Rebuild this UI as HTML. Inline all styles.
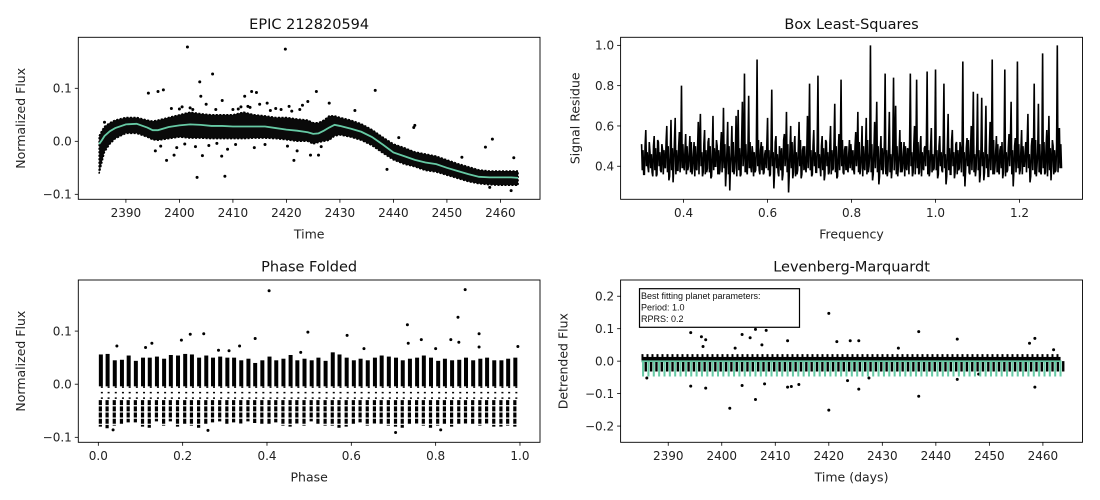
<!DOCTYPE html>
<html><head><meta charset="utf-8"><style>
html,body{margin:0;padding:0;background:#fff}
svg{display:block;font-family:"DejaVu Sans","Liberation Sans",sans-serif}
</style></head><body>
<svg id="fig" width="1100" height="500" viewBox="0 0 1100 500" xmlns="http://www.w3.org/2000/svg"></svg>
<script>
// ---------- Panel 1: light curve ----------
const lcTimes=[2385,2385.5,2386,2387,2388,2390,2392,2394,2395,2396,2398,2400,2402,2404,2406,2408,2410,2412,2414,2416,2418,2420,2422,2424,2425,2426,2427,2428,2429,2430,2432,2434,2436,2438,2440,2442,2444,2446,2448,2450,2452,2454,2456,2458,2460,2462,2463.3];
const lcTrend=[-0.005,0.002,0.010,0.019,0.025,0.032,0.033,0.026,0.021,0.021,0.027,0.030,0.032,0.031,0.029,0.029,0.028,0.028,0.028,0.028,0.025,0.022,0.020,0.017,0.014,0.015,0.020,0.026,0.031,0.029,0.024,0.018,0.008,-0.006,-0.021,-0.028,-0.035,-0.040,-0.043,-0.050,-0.056,-0.062,-0.067,-0.068,-0.068,-0.068,-0.069];
const lcUpper=[0.01,0.02,0.028,0.035,0.04,0.045,0.045,0.04,0.038,0.04,0.045,0.05,0.055,0.052,0.05,0.05,0.05,0.055,0.05,0.048,0.045,0.045,0.042,0.04,0.035,0.035,0.04,0.048,0.048,0.045,0.04,0.033,0.022,0.008,-0.005,-0.012,-0.02,-0.024,-0.028,-0.035,-0.042,-0.048,-0.054,-0.056,-0.056,-0.056,-0.056];
const lcLower=[-0.06,-0.04,-0.02,-0.005,0.005,0.015,0.015,0.008,0.003,0.002,0.005,0.008,0.006,0.006,0.005,0.005,0.005,0.005,0.006,0.006,0.005,0.003,0.0,0.0,-0.005,-0.002,0.0,0.002,0.01,0.012,0.008,0.002,-0.008,-0.022,-0.035,-0.043,-0.048,-0.055,-0.058,-0.064,-0.07,-0.076,-0.08,-0.082,-0.083,-0.083,-0.083];
const lcOutT=[2401.5,2419.8,2406.2,2403.8,2404,2394.2,2396,2397,2413.5,2414.4,2425.6,2436.6,2403.3,2408.5,2397.6,2407.9,2421.4,2444,2443.8,2458.5,2457.2,2462.5,2452.8,2438.8,2441,2386,2432.8,2428,2416.4,2408,2412.2,2424,2395.5,2399,2404.3,2424.5,2426,2462,2458,2400.5,2402.5,2405,2410,2411.5,2415,2418,2420.5,2422.5,2423,2399.5,2409,2401,2403,2405.5,2407,2412.8,2417,2419,2421,2398.5,2410.5,2414,2416,2426.5,2400,2402,2406.8,2411,2413.2,2420.2,2422,2396.5];
const lcOutF=[0.178,0.174,0.127,0.112,0.085,0.091,0.094,0.097,0.094,0.092,0.094,0.096,-0.068,-0.066,-0.036,-0.028,-0.036,0.03,0.026,0.004,-0.011,-0.031,-0.03,-0.053,0.007,0.036,0.058,0.072,0.072,0.077,0.085,0.075,-0.018,-0.026,-0.027,-0.026,-0.026,-0.093,-0.087,0.065,0.06,0.07,0.06,0.065,0.07,0.062,0.066,0.06,0.068,-0.012,-0.015,-0.005,-0.01,-0.008,-0.004,0.066,0.058,0.06,0.057,0.062,-0.006,-0.012,-0.006,-0.01,0.061,0.063,0.06,0.061,0.064,-0.009,-0.018,-0.009];
const lcXTicks=[2390,2400,2410,2420,2430,2440,2450,2460];
const lcYTicks=[-0.1,0.0,0.1];

// ---------- Panel 2: BLS ----------
const blsFreqStart=0.3, blsFreqStep=0.005;
const blsValues=[0.51,0.36,0.58,0.40,0.47,0.37,0.55,0.35,0.52,0.38,
0.48,0.40,0.60,0.33,0.63,0.32,0.64,0.38,0.57,0.80,
0.40,0.56,0.38,0.55,0.36,0.52,0.39,0.62,0.66,0.35,
0.58,0.37,0.54,0.34,0.65,0.40,0.50,0.36,0.57,0.69,
0.30,0.62,0.28,0.60,0.36,0.65,0.68,0.35,0.72,0.86,
0.38,0.75,0.40,0.46,0.37,0.93,0.38,0.52,0.36,0.48,
0.64,0.35,0.78,0.29,0.55,0.37,0.45,0.33,0.56,0.67,
0.27,0.60,0.34,0.55,0.36,0.62,0.34,0.50,0.40,0.65,
0.81,0.35,0.58,0.37,0.85,0.40,0.55,0.33,0.52,0.36,
0.60,0.38,0.71,0.34,0.56,0.83,0.37,0.50,0.39,0.53,
0.45,0.38,0.57,0.67,0.36,0.60,0.40,0.64,0.37,1.00,
0.33,0.62,0.72,0.31,0.55,0.36,0.86,0.35,0.67,0.34,
0.84,0.70,0.35,0.58,0.37,0.52,0.40,0.48,0.86,0.35,
0.60,0.83,0.36,0.55,0.40,0.50,0.87,0.35,0.59,0.38,
0.88,0.34,0.55,0.38,0.81,0.31,0.66,0.36,0.58,0.34,
0.52,0.38,0.48,0.92,0.30,0.54,0.37,0.60,0.77,0.35,
0.76,0.32,0.74,0.33,0.70,0.35,0.62,0.93,0.36,0.55,
0.38,0.50,0.34,0.88,0.37,0.56,0.72,0.30,0.54,0.92,
0.36,0.58,0.40,0.52,0.66,0.32,0.54,0.81,0.35,0.71,
0.37,0.96,0.36,0.58,0.65,0.33,0.50,0.37,1.00,0.59,0.39];
const blsBaseHigh=[0.48,0.50,0.47,0.52,0.46,0.50,0.49,0.53,0.47,0.51,0.48,0.52,0.50,0.47,0.49,0.53,0.48,0.50,0.46,0.51];
const blsBaseLow=[0.38,0.36,0.40,0.37,0.39,0.35,0.38,0.36,0.40,0.37,0.36,0.39,0.37,0.35,0.38,0.40,0.36,0.38,0.37,0.39];
const blsXTicks=[0.4,0.6,0.8,1.0,1.2];
const blsYTicks=[0.4,0.6,0.8,1.0];

// ---------- Panel 3: phase folded ----------
const phCols=[0.006,0.022,0.039,0.056,0.072,0.089,0.106,0.122,0.139,0.156,0.172,0.189,0.206,0.222,0.239,0.256,0.272,0.289,0.306,0.322,0.339,0.356,0.372,0.389,0.406,0.422,0.439,0.456,0.472,0.489,0.506,0.522,0.539,0.556,0.572,0.589,0.606,0.622,0.639,0.656,0.672,0.689,0.706,0.722,0.739,0.756,0.772,0.789,0.806,0.822,0.839,0.856,0.872,0.889,0.906,0.922,0.939,0.956,0.972,0.989];
const phTop=[0.056,0.057,0.045,0.046,0.054,0.044,0.05,0.05,0.052,0.048,0.055,0.054,0.057,0.056,0.05,0.054,0.05,0.052,0.05,0.05,0.045,0.048,0.04,0.045,0.052,0.045,0.048,0.055,0.045,0.048,0.045,0.05,0.044,0.06,0.056,0.05,0.045,0.048,0.045,0.05,0.054,0.052,0.05,0.045,0.048,0.05,0.054,0.05,0.044,0.048,0.045,0.046,0.05,0.045,0.048,0.05,0.045,0.045,0.048,0.05];
const phBottom=[-0.08,-0.083,-0.078,-0.075,-0.072,-0.072,-0.08,-0.082,-0.07,-0.078,-0.07,-0.08,-0.076,-0.078,-0.082,-0.075,-0.072,-0.07,-0.076,-0.072,-0.074,-0.07,-0.073,-0.075,-0.076,-0.072,-0.078,-0.08,-0.074,-0.078,-0.07,-0.075,-0.078,-0.078,-0.082,-0.08,-0.076,-0.072,-0.078,-0.074,-0.076,-0.078,-0.08,-0.082,-0.076,-0.074,-0.078,-0.082,-0.078,-0.076,-0.08,-0.075,-0.074,-0.075,-0.078,-0.074,-0.08,-0.08,-0.078,-0.08];
const phOutP=[0.405,0.87,0.853,0.733,0.497,0.903,0.25,0.218,0.197,0.59,0.372,0.766,0.836,0.127,0.735,0.855,0.903,0.995,0.705,0.26,0.035,0.812,0.044,0.112,0.285,0.31,0.335,0.48,0.63,0.8];
const phOutF=[0.176,0.178,0.126,0.112,0.098,0.095,0.095,0.094,0.083,0.092,0.086,0.084,0.084,0.077,0.077,0.079,0.07,0.071,-0.091,-0.087,-0.086,-0.086,0.072,0.069,0.064,0.063,0.072,0.06,0.067,0.067];
const phXTicks=[0.0,0.2,0.4,0.6,0.8,1.0];
const phYTicks=[-0.1,0.0,0.1];

// ---------- Panel 4: LM fit ----------
const lmPeriod=1.0, lmT0=2385.3, lmDepth=-0.045, lmTStart=2385, lmTEnd=2463.3;
const lmBandTop=0.013, lmBandBottom=-0.003;
const lmOutT=[2401.5,2420,2394.2,2396.2,2397,2403.8,2406.3,2408.3,2405.3,2412.3,2424,2425.6,2436.8,2444,2458.5,2457.5,2421.5,2401.5,2406.3,2420,2436.8,2394.2,2397,2403.8,2412.3,2414.4,2425.6,2458.5,2444,2386,2408,2423.5,2413,2396.5,2402.5,2407.5,2433,2462,2427.5,2448];
const lmOutF=[0.131,0.147,0.088,0.075,0.066,0.082,0.098,0.095,0.072,0.063,0.063,0.063,0.091,0.068,0.07,0.055,0.06,-0.145,-0.118,-0.151,-0.108,-0.077,-0.083,-0.075,-0.08,-0.072,-0.086,-0.08,-0.056,-0.052,-0.07,-0.06,-0.078,0.045,0.04,0.05,0.04,0.035,-0.052,-0.04];
const lmXTicks=[2390,2400,2410,2420,2430,2440,2450,2460];
const lmYTicks=[-0.2,-0.1,0.0,0.1,0.2];

const NS="http://www.w3.org/2000/svg";
const svg=document.getElementById('fig');
const GREEN="#66c9a4";
function mk(tag,attrs,parent){const e=document.createElementNS(NS,tag);for(const k in attrs)e.setAttribute(k,attrs[k]);(parent||svg).appendChild(e);return e;}
function fmt(v,d){let s=v.toFixed(d);if(v<0)s="\u2212"+(-v).toFixed(d);if(Math.abs(v)<1e-9)s=(0).toFixed(d);return s;}
function scale(d0,d1,p0,p1){return v=>p0+(v-d0)/(d1-d0)*(p1-p0);}

function axes(name,box,xlim,ylim,xticks,yticks,xd,yd,title,xlabel,ylabel,ylabX){
  const g=mk('g',{});
  
  
  const sx=scale(xlim[0],xlim[1],box.l,box.r), sy=scale(ylim[0],ylim[1],box.b,box.t);
  const plot=mk('g',{},g);
  
  
  const cid='clip-'+name;
  const cp=mk('clipPath',{id:cid},g);mk('rect',{x:box.l,y:box.t,width:box.r-box.l,height:box.b-box.t},cp);
  plot.setAttribute('clip-path','url(#'+cid+')');
  const frame=mk('rect',{x:box.l,y:box.t,width:box.r-box.l,height:box.b-box.t,fill:'none',stroke:'#000','stroke-width':0.9},g);
  
  
  xticks.forEach(v=>{const x=sx(v);
    mk('line',{x1:x,x2:x,y1:box.b,y2:box.b+3.5,stroke:'#000','stroke-width':0.8},g);
    const t=mk('text',{x:x,y:box.b+17.5,'text-anchor':'middle','font-size':12,fill:'#222'},g);t.textContent=fmt(v,xd);
    
    });
  yticks.forEach(v=>{const y=sy(v);
    mk('line',{x1:box.l-3.5,x2:box.l,y1:y,y2:y,stroke:'#000','stroke-width':0.8},g);
    const t=mk('text',{x:box.l-6.5,y:y+4.3,'text-anchor':'end','font-size':12,fill:'#222'},g);t.textContent=fmt(v,yd);
    
    });
  const cx=(box.l+box.r)/2;
  const tt=mk('text',{x:cx,y:box.t-8.5,'text-anchor':'middle','font-size':14.5,fill:'#111'},g);tt.textContent=title;
  
  
  const xl=mk('text',{x:cx,y:box.b+39,'text-anchor':'middle','font-size':12.5,fill:'#222'},g);xl.textContent=xlabel;
  
  
  const cy=(box.t+box.b)/2;
  const yl=mk('text',{x:ylabX,y:cy,'text-anchor':'middle','font-size':12.5,fill:'#222',transform:`rotate(-90 ${ylabX} ${cy})`,dy:'4.5'},g);yl.textContent=ylabel;
  
  
  g.appendChild(frame);
  return {sx,sy,plot,g};
}
function dot(parent,x,y,r){const c=mk('circle',{cx:x,cy:y,r:r||1.5,fill:'#000'},parent);
  
  return c;}

// Panel 1
(function(){
  const A=axes('light-curve-panel',{l:78.3,r:540,t:37.3,b:199.3},[2381.1,2467.4],[-0.1094,0.1962],lcXTicks,lcYTicks,0,1,'EPIC 212820594','Time','Normalized Flux',20.5);
  let pts=lcTimes.map((t,i)=>A.sx(t)+','+A.sy(lcUpper[i]));
  for(let i=lcTimes.length-1;i>=0;i--)pts.push(A.sx(lcTimes[i])+','+A.sy(lcLower[i]));
  const band=mk('polygon',{points:pts.join(' '),fill:'#0a0a0a',stroke:'#000','stroke-width':1.5,'stroke-linejoin':'round','stroke-dasharray':'2 1.5'},A.plot);
  
  
  lcOutT.forEach((t,i)=>dot(A.plot,A.sx(t),A.sy(lcOutF[i])));
  const tr=mk('polyline',{points:lcTimes.map((t,i)=>A.sx(t)+','+A.sy(lcTrend[i])).join(' '),fill:'none',stroke:GREEN,'stroke-width':1.8},A.plot);
  
  
})();

// Panel 2
(function(){
  const A=axes('bls-panel',{l:620.6,r:1082.5,t:37.3,b:199.3},[0.25,1.35],[0.236,1.04],blsXTicks,blsYTicks,1,1,'Box Least-Squares','Frequency','Signal Residue',575);
  // dense baseline noise between the main samples
  const pts=[];
  blsValues.forEach((v,i)=>{const f=blsFreqStart+i*blsFreqStep;
    pts.push(A.sx(f)+','+A.sy(v));
    if(i<blsValues.length-1){
      pts.push(A.sx(f+blsFreqStep*0.33)+','+A.sy(blsBaseLow[i%blsBaseLow.length]));
      pts.push(A.sx(f+blsFreqStep*0.66)+','+A.sy(blsBaseHigh[i%blsBaseHigh.length]));
    }});
  const pl=mk('polyline',{points:pts.join(' '),fill:'none',stroke:'#000','stroke-width':1.6,'stroke-linejoin':'miter'},A.plot);
  
  
})();

// Panel 3
(function(){
  const A=axes('phase-folded-panel',{l:78.3,r:540,t:280,b:442.3},[-0.0475,1.0475],[-0.1094,0.1962],phXTicks,phYTicks,1,1,'Phase Folded','Phase','Normalized Flux',20.5);
  phCols.forEach((p,i)=>{const x=A.sx(p);
    const u=mk('rect',{x:x-2,y:A.sy(phTop[i]),width:4,height:A.sy(-0.004)-A.sy(phTop[i]),fill:'#000'},A.plot);
    
    
    const m=mk('line',{x1:x+1,x2:x+1,y1:A.sy(-0.004),y2:A.sy(-0.03),stroke:'#000','stroke-width':2,'stroke-dasharray':'1.5 4'},A.plot);
    
    
    const l=mk('line',{x1:x-0.5,x2:x-0.5,y1:A.sy(-0.03),y2:A.sy(phBottom[i]),stroke:'#000','stroke-width':3.2,'stroke-dasharray':'5 1.2'},A.plot);
    
    
  });
  phOutP.forEach((p,i)=>dot(A.plot,A.sx(p),A.sy(phOutF[i])));
})();

// Panel 4
(function(){
  const A=axes('levenberg-marquardt-panel',{l:620.6,r:1082.5,t:280,b:442.3},[2381.1,2467.4],[-0.25,0.25],lmXTicks,lmYTicks,0,1,'Levenberg-Marquardt','Time (days)','Detrended Flux',563);
  const band=mk('rect',{x:A.sx(lmTStart),y:A.sy(lmBandTop),width:A.sx(lmTEnd)-A.sx(lmTStart),height:A.sy(lmBandBottom)-A.sy(lmBandTop),fill:'#000'},A.plot);
  
  
  const fuzz=mk('line',{x1:A.sx(lmTStart),x2:A.sx(lmTEnd),y1:A.sy(0.017),y2:A.sy(0.017),stroke:'#000','stroke-width':3,'stroke-dasharray':'2 3'},A.plot);
  
  
  lmOutT.forEach((t,i)=>dot(A.plot,A.sx(t),A.sy(lmOutF[i])));
  let d=`M${A.sx(lmTStart)},${A.sy(0)}`;
  for(let t=lmT0;t<=lmTEnd;t+=lmPeriod){
    const bk=mk('line',{x1:A.sx(t+lmPeriod/2),x2:A.sx(t+lmPeriod/2),y1:A.sy(0),y2:A.sy(-0.032),stroke:'#000','stroke-width':2.4},A.plot);
    
    
    d+=` L${A.sx(t-0.05)},${A.sy(0)} L${A.sx(t-0.04)},${A.sy(lmDepth)} L${A.sx(t+0.04)},${A.sy(lmDepth)} L${A.sx(t+0.05)},${A.sy(0)}`;
  }
  d+=` L${A.sx(lmTEnd)},${A.sy(0)}`;
  const model=mk('path',{d:d,fill:'none',stroke:GREEN,'stroke-width':1.6},A.plot);
  
  
  const lg=mk('g',{},A.g);
  
  
  mk('rect',{x:639.5,y:288.7,width:160,height:38.6,fill:'#fff',stroke:'#000','stroke-width':1.2},lg);
  ['Best fitting planet parameters:','Period: 1.0','RPRS: 0.2'].forEach((s,i)=>{
    const t=mk('text',{x:641,y:299+i*11.4,'font-size':9,fill:'#111','font-family':'"Liberation Sans",sans-serif'},lg);t.textContent=s;
    
    
  });
})();
</script>
</body></html>
